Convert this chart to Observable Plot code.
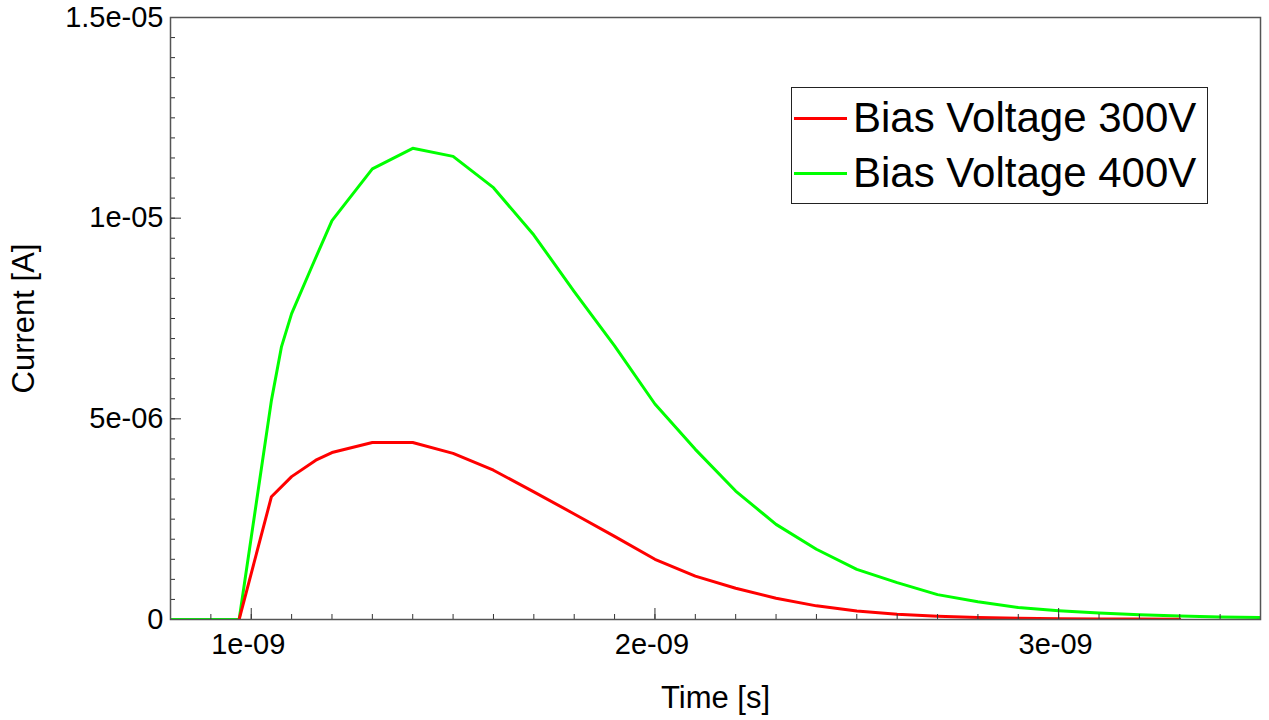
<!DOCTYPE html>
<html>
<head>
<meta charset="utf-8">
<script src="https://cdn.jsdelivr.net/npm/d3@7"></script>
<script src="https://cdn.jsdelivr.net/npm/@observablehq/plot@0.6"></script>
<style>
  body { margin: 0; background: #fff; font-family: "Liberation Sans", Arial, sans-serif; }
  #wrap { position: relative; width: 1269px; height: 720px; overflow: hidden; }
  .legend { position: absolute; left: 791px; top: 87px; width: 415px; height: 115px;
            border: 1.5px solid #222; background: #fff; }
  .legend .sw { position: absolute; left: 2px; width: 53px; height: 3px; }
  .legend .lb { position: absolute; left: 61px; font-size: 42px; line-height: 42px; white-space: nowrap; color: #000; }
</style>
</head>
<body>
<div id="wrap"></div>
<script>
// ---- data (time in s, current in A) ----
const seriesNames = ["Bias Voltage 300V", "Bias Voltage 400V"];
const seriesColors = ["#ff0000", "#00ff00"];

const time300 = [0.97e-9, 1.05e-9, 1.1e-9, 1.16e-9, 1.2e-9, 1.3e-9, 1.4e-9, 1.5e-9, 1.6e-9, 1.7e-9,
  1.8e-9, 1.9e-9, 2.0e-9, 2.1e-9, 2.2e-9, 2.3e-9, 2.4e-9, 2.5e-9, 2.6e-9, 2.7e-9,
  2.8e-9, 2.9e-9, 3.0e-9, 3.1e-9, 3.2e-9, 3.3e-9];
const current300 = [0, 3.06e-6, 3.56e-6, 3.97e-6, 4.16e-6, 4.41e-6, 4.41e-6, 4.14e-6, 3.72e-6, 3.18e-6,
  2.63e-6, 2.07e-6, 1.50e-6, 1.08e-6, 0.78e-6, 0.53e-6, 0.34e-6, 0.21e-6, 0.13e-6, 0.08e-6,
  0.05e-6, 0.03e-6, 0.02e-6, 0.015e-6, 0.01e-6, 0.008e-6];

const time400 = [0.8e-9, 0.97e-9, 1.05e-9, 1.075e-9, 1.1e-9, 1.15e-9, 1.2e-9, 1.3e-9, 1.4e-9, 1.5e-9,
  1.6e-9, 1.7e-9, 1.8e-9, 1.9e-9, 2.0e-9, 2.1e-9, 2.2e-9, 2.3e-9, 2.4e-9, 2.5e-9,
  2.6e-9, 2.7e-9, 2.8e-9, 2.9e-9, 3.0e-9, 3.1e-9, 3.2e-9, 3.3e-9, 3.4e-9, 3.5e-9];
const current400 = [0, 0, 5.46e-6, 6.8e-6, 7.62e-6, 8.79e-6, 9.94e-6, 11.23e-6, 11.74e-6, 11.54e-6,
  10.76e-6, 9.58e-6, 8.17e-6, 6.82e-6, 5.37e-6, 4.24e-6, 3.20e-6, 2.37e-6, 1.75e-6, 1.25e-6,
  0.92e-6, 0.62e-6, 0.44e-6, 0.30e-6, 0.22e-6, 0.16e-6, 0.12e-6, 0.09e-6, 0.06e-6, 0.05e-6];

// ---- axes ----
const xDomain = [0.8e-9, 3.5e-9];
const yDomain = [0, 1.5e-5];
const xMajorTicks = [1e-9, 2e-9, 3e-9];
const xTickLabels = ["1e-09", "2e-09", "3e-09"];
const yMajorTicks = [0, 5e-6, 1e-5, 1.5e-5];
const yTickLabels = ["0", "5e-06", "1e-05", "1.5e-05"];
const xMinorStep = 1e-10;
const yMinorStep = 5e-7;
const xTitle = "Time [s]";
const yTitle = "Current [A]";

const xMinorTicks = d3.range(8, 36).map(i => i * xMinorStep);
const yMinorTicks = d3.range(0, 31).map(i => i * yMinorStep);
const xLabelMap = new Map(xMajorTicks.map((v, i) => [v, xTickLabels[i]]));
const yLabelMap = new Map(yMajorTicks.map((v, i) => [v, yTickLabels[i]]));

const rows300 = time300.map((t, i) => ({t, c: current300[i], s: seriesNames[0]}));
const rows400 = time400.map((t, i) => ({t, c: current400[i], s: seriesNames[1]}));

const tickColor = "#333";

const chart = Plot.plot({
  width: 1269,
  height: 720,
  marginLeft: 170,
  marginRight: 9,
  marginTop: 17,
  marginBottom: 101,
  x: {domain: xDomain},
  y: {domain: yDomain},
  style: {fontFamily: "'Liberation Sans', Arial, sans-serif", fontSize: "29px", color: "#000", background: "#fff"},
  marks: [
    Plot.line(rows400, {x: "t", y: "c", stroke: seriesColors[1], strokeWidth: 3, clip: true}),
    Plot.line(rows300, {x: "t", y: "c", stroke: seriesColors[0], strokeWidth: 3, clip: true}),
    // minor ticks (inward)
    Plot.axisX(xMinorTicks, {anchor: "bottom", tickSize: -5, fill: "none", stroke: tickColor, label: null}),
    Plot.axisY(yMinorTicks, {anchor: "left", tickSize: -5, fill: "none", stroke: tickColor, label: null}),
    // major ticks (inward)
    Plot.axisX(xMajorTicks, {anchor: "bottom", tickSize: -11, fill: "none", stroke: tickColor, label: null}),
    Plot.axisY(yMajorTicks, {anchor: "left", tickSize: -11, fill: "none", stroke: tickColor, label: null}),
    // tick labels
    Plot.axisX(xMajorTicks, {anchor: "bottom", tickSize: 0, tickPadding: 14, dx: -3, tickFormat: d => xLabelMap.get(d), fontSize: 29, label: null}),
    Plot.axisY(yMajorTicks, {anchor: "left", tickSize: 0, tickPadding: 7, tickFormat: d => yLabelMap.get(d), fontSize: 29, label: null}),
    Plot.frame({stroke: "#555", strokeWidth: 1.5}),
    // axis titles
    Plot.text([xTitle], {text: d => d, frameAnchor: "bottom", textAnchor: "middle", lineAnchor: "middle", dy: 79, fontSize: 31}),
    Plot.text([yTitle], {text: d => d, frameAnchor: "left", textAnchor: "middle", lineAnchor: "middle", dx: -146, rotate: -90, fontSize: 31})
  ]
});

const wrap = document.getElementById("wrap");
wrap.appendChild(chart);

// legend
const legend = document.createElement("div");
legend.className = "legend";
seriesNames.forEach((name, i) => {
  const sw = document.createElement("div");
  sw.className = "sw";
  sw.style.top = (29 + i * 55) + "px";
  sw.style.background = seriesColors[i];
  const lb = document.createElement("div");
  lb.className = "lb";
  lb.style.top = (9 + i * 55) + "px";
  lb.textContent = name;
  legend.appendChild(sw);
  legend.appendChild(lb);
});
wrap.appendChild(legend);
</script>
</body>
</html>
